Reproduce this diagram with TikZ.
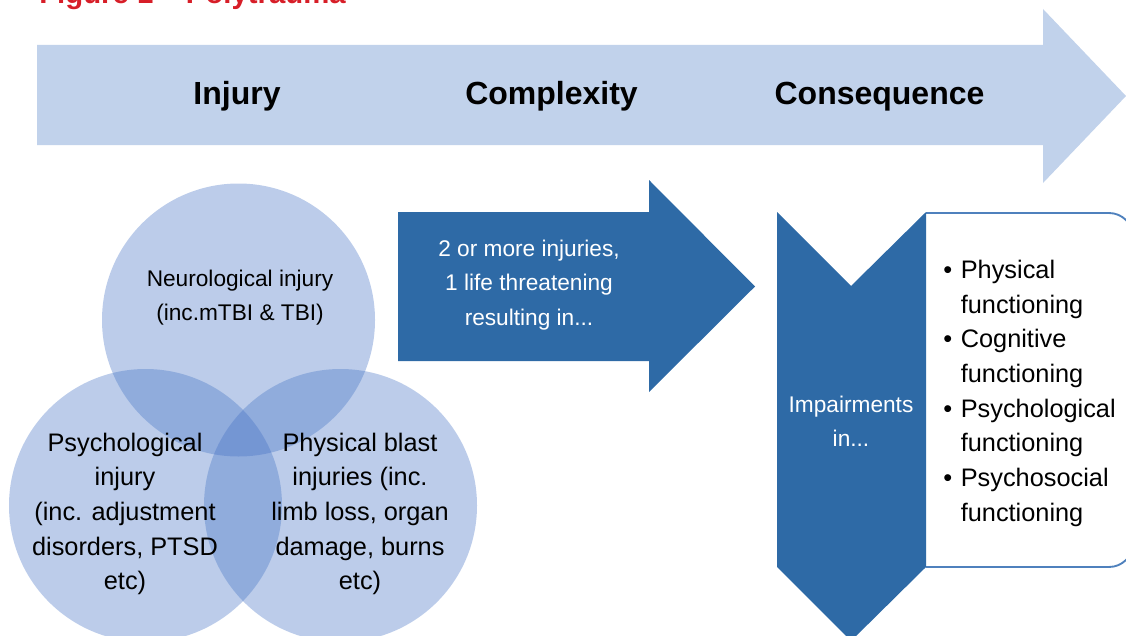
\documentclass[tikz,border=0pt]{standalone}
\usepackage{fontspec}
\setmainfont{Liberation Sans}
\definecolor{lightarrow}{HTML}{C1D2EB}
\definecolor{darkarrow}{HTML}{2E6AA6}
\definecolor{circfill}{HTML}{4472C4}
\definecolor{boxline}{HTML}{4F81BD}
\definecolor{titlered}{HTML}{D71E28}
\tikzset{
  heading/.style={font=\fontsize{24}{28}\selectfont\bfseries, text=black, anchor=base, inner sep=0pt},
  whitetext/.style={font=\fontsize{17}{25.8}\selectfont, text=white, align=center, inner sep=0pt},
  circtext/.style={font=\fontsize{17}{25.5}\selectfont, text=black, align=center, inner sep=0pt},
  bigcirctext/.style={font=\fontsize{19}{26}\selectfont, text=black, align=center, inner sep=0pt},
  venn/.style={fill=circfill, fill opacity=0.36},
}
\begin{document}
\begin{tikzpicture}[x=0.75pt,y=-0.75pt]
\useasboundingbox (0,0) rectangle (1126,635);
% title (cut off at top, as in the reference)
\node[anchor=base west, inner sep=0pt, text=titlered, font=\fontsize{22}{26}\selectfont\bfseries] (title) at (39,3.5) {Figure 1 – Polytrauma};
% big light arrow
\fill[lightarrow] (37,45) -- (1043,45) -- (1043,9) -- (1126,96) -- (1043,183) -- (1043,145) -- (37,145) -- cycle;
\node[heading] (injury) at (237,104) {Injury};
\node[heading] (complexity) at (551.5,104) {Complexity};
\node[heading] (consequence) at (879.5,104) {Consequence};
% venn circles
\fill[venn] (238.5,320) circle[radius=102.375pt];
\fill[venn] (145.5,505.5) circle[radius=102.375pt];
\fill[venn] (340.5,505.5) circle[radius=102.375pt];
\node[circtext] (neuro) at (240,298) {Neurological injury\\(inc.mTBI \& TBI)};
\node[bigcirctext] (psych) at (125,514) {Psychological\\injury\\(inc. adjustment\\disorders, PTSD\\etc)};
\node[bigcirctext] (phys) at (360,514) {Physical blast\\injuries (inc.\\limb loss, organ\\damage, burns\\etc)};
% dark arrow
\fill[darkarrow] (398,212) -- (649,212) -- (649,180) -- (755,286.5) -- (649,392) -- (649,361) -- (398,361) -- cycle;
\node[whitetext] (multi) at (529,285) {2 or more injuries,\\1 life threatening\\resulting in...};
% rounded box
\fill[white] (926,213) rectangle (1126,567);
\draw[boxline, line width=1.4pt, rounded corners=18pt] (926,213) -- (1133,213) -- (1133,567) -- (926,567);
% chevron
\fill[darkarrow] (777,212) -- (851,286) -- (926,212) -- (926,567) -- (851,641) -- (777,567) -- cycle;
\node[whitetext, font=\fontsize{17}{25.5}\selectfont] (impair) at (851,421.5) {Impairments\\in...};
% bullet list
\node[anchor=west, inner sep=0pt, font=\fontsize{19}{26}\selectfont] (list) at (943,393) {%
\begin{tabular}{@{}l@{\hspace{6.5pt}}l@{}}
•&Physical\\ &functioning\\
•&Cognitive\\ &functioning\\
•&Psychological\\ &functioning\\
•&Psychosocial\\ &functioning
\end{tabular}};
\end{tikzpicture}
\end{document}
